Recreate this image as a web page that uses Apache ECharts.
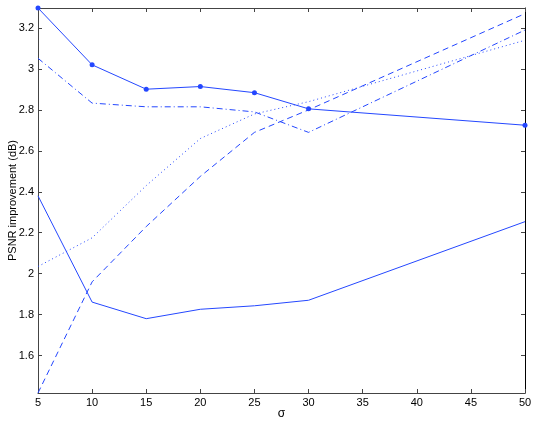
<!DOCTYPE html>
<html>
<head>
<meta charset="utf-8">
<script src="https://cdn.jsdelivr.net/npm/echarts@6/dist/echarts.min.js"></script>
<style>
  html, body { margin: 0; padding: 0; background: #fff; }
  #chart { width: 540px; height: 425px; }
</style>
</head>
<body>
<div id="chart"></div>
<script>
    // values
    var sigma = [5, 10, 15, 20, 25, 30, 50];
    var solidMarked = [3.2976, 3.02, 2.901, 2.914, 2.884, 2.805, 2.725];
    var solidPlain = [2.38, 1.861, 1.78, 1.826, 1.843, 1.87, 2.254];
    var dashed = [1.417, 1.96, 2.23, 2.475, 2.69, 2.80, 3.27];
    var dotted = [2.035, 2.175, 2.43, 2.66, 2.78, 2.84, 3.14];
    var dashDot = [3.052, 2.833, 2.815, 2.815, 2.79, 2.69, 3.19];
    var yTicks = [1.6, 1.8, 2.0, 2.2, 2.4, 2.6, 2.8, 3.0, 3.2];

    var blue = '#2447ff';
    var font = 'Liberation Sans';

    function pairs(ys) {
        return sigma.map(function (x, i) { return [x, ys[i]]; });
    }
    function line(ys, type, marked) {
        return {
            type: 'line',
            data: pairs(ys),
            symbol: marked ? 'circle' : 'none',
            symbolSize: 5,
            showSymbol: !!marked,
            itemStyle: {color: blue},
            lineStyle: {color: blue, width: 1, type: type},
            animation: false
        };
    }

    var axisLine = {lineStyle: {color: '#444', width: 1}};
    var yMin = function (v) { return v.min; };
    var yMax = function (v) { return v.max; };

    var myChart = echarts.init(document.getElementById('chart'));
    myChart.setOption({
        animation: false,
        grid: {left: 38, right: 15, top: 8, bottom: 32, containLabel: false, outerBoundsMode: 'none'},
        xAxis: [
            {
                type: 'value', min: 5, max: 50, interval: 5,
                name: 'σ', nameLocation: 'middle', nameGap: 15, nameMoveOverlap: false,
                nameTextStyle: {fontFamily: font, fontSize: 12, color: '#000'},
                axisLine: axisLine,
                axisTick: {inside: true, length: 4, lineStyle: {color: '#444'}},
                axisLabel: {fontFamily: font, fontSize: 11, color: '#000', margin: 4},
                splitLine: {show: false}
            },
            {
                type: 'value', position: 'top', min: 5, max: 50, interval: 5,
                axisLine: axisLine,
                axisTick: {inside: true, length: 4, lineStyle: {color: '#444'}},
                axisLabel: {show: false},
                splitLine: {show: false}
            }
        ],
        yAxis: [
            {
                type: 'value', min: yMin, max: yMax,
                name: 'PSNR improvement (dB)', nameLocation: 'middle', nameGap: 20, nameMoveOverlap: false,
                nameTextStyle: {fontFamily: font, fontSize: 11, color: '#000'},
                axisLine: {show: true, lineStyle: {color: '#444', width: 1}},
                axisTick: {show: true, inside: true, length: 4, customValues: yTicks, lineStyle: {color: '#444'}},
                axisLabel: {
                    fontFamily: font, fontSize: 11, color: '#000', margin: 4,
                    customValues: yTicks,
                    formatter: function (v) { return String(+v.toFixed(1)); }
                },
                splitLine: {show: false}
            },
            {
                type: 'value', position: 'right', min: yMin, max: yMax,
                axisLine: {show: true, lineStyle: {color: '#000', width: 1}},
                axisTick: {show: true, inside: true, length: 4, customValues: yTicks, lineStyle: {color: '#444'}},
                axisLabel: {show: false},
                splitLine: {show: false}
            }
        ],
        series: [
            line(solidMarked, 'solid', true),
            line(solidPlain, 'solid', false),
            line(dashed, [6, 4], false),
            line(dotted, [1, 3], false),
            line(dashDot, [6, 3, 1, 3], false),
            // keeps the right axis on the same data range
            {type: 'line', yAxisIndex: 1, xAxisIndex: 1, data: pairs(solidMarked).concat(pairs(dashed)),
             symbol: 'none', lineStyle: {opacity: 0}, silent: true}
        ]
    });
</script>
</body>
</html>
